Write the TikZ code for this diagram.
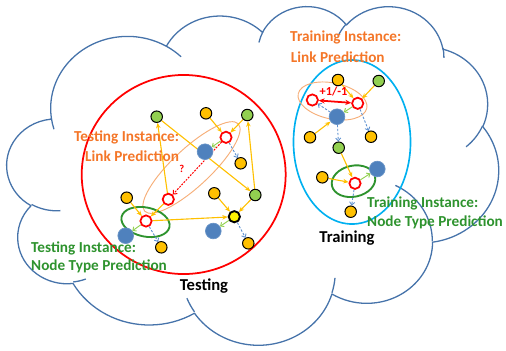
\documentclass[tikz,border=0pt]{standalone}
\usepackage{fontspec}
\setmainfont{Carlito}
\usetikzlibrary{arrows.meta,shapes.geometric}
\pgfdeclarelayer{bg}
\pgfsetlayers{bg,main}
\definecolor{cloudc}{HTML}{4673AA}
\definecolor{goldc}{HTML}{FFC000}
\definecolor{greenc}{HTML}{92D050}
\definecolor{bluec}{HTML}{4F81BD}
\definecolor{bluedc}{HTML}{5B8FD0}
\definecolor{orangetxt}{HTML}{F47628}
\definecolor{orangeell}{HTML}{F6AE78}
\definecolor{greentxt}{HTML}{2E932E}
\definecolor{cyanc}{HTML}{00B0F0}
\newcommand\cldprep[5]{%
  \pgfmathsetmacro\tmpA{atan2(#2*sin(#4),#3*cos(#4))}%
  \pgfmathsetmacro\tmpB{atan2(#2*sin(#4+#5),#3*cos(#4+#5))}%
  \pgfmathsetmacro\tmpD{mod(\tmpB-\tmpA+720,360)}%
  \expandafter\xdef\csname cst#1\endcsname{\tmpA}%
  \expandafter\xdef\csname cdl#1\endcsname{\tmpD}%
}
% main outline
\cldprep{A}{6.753}{9.190}{-190.48748}{123.78053}
\cldprep{B}{5.333}{7.267}{-144.10238}{89.94523}
\cldprep{C}{4.365}{5.945}{-145.80792}{99.72302}
\cldprep{D}{4.857}{6.595}{-130.98607}{117.24173}
\cldprep{E}{5.333}{7.273}{-78.70888}{109.02692}
\cldprep{F}{6.775}{9.220}{-46.26725}{130.269}
\cldprep{G}{5.785}{7.867}{0.62502}{114.03333}
\cldprep{H}{6.752}{9.215}{22.4516}{115.17255}
\cldprep{I}{7.720}{10.543}{66.24263}{75.71102}
\cldprep{J}{4.360}{5.918}{-274.94208}{146.73557}
\cldprep{K}{4.345}{5.945}{-246.8285}{152.51885}
% inner curls
\cldprep{L}{4.345}{5.945}{86.742}{26.4295}
\cldprep{M}{4.360}{5.918}{73.61047}{11.44747}
\cldprep{N}{6.752}{9.215}{137.62415}{14.0811}
\cldprep{O}{6.752}{9.215}{6.45327}{15.99835}
\cldprep{P}{5.785}{7.867}{-70.29235}{70.91737}
\cldprep{Q}{5.333}{7.273}{30.31803}{27.7515}
\cldprep{R}{4.857}{6.595}{-13.74433}{14.8589}
\cldprep{S}{4.857}{6.595}{-149.18145}{18.19537}
\cldprep{T}{4.365}{5.945}{-163.49427}{17.68635}
\cldprep{U}{6.753}{9.190}{-66.70695}{12.31935}
\cldprep{V}{6.753}{9.190}{157.65435}{11.85817}
\tikzset{
  cloudline/.style={draw=cloudc, line width=1.1pt, line join=round},
  gnode/.style={circle, draw=black, line width=0.85pt, fill=greenc, minimum size=9.8pt, inner sep=0pt},
  ynode/.style={gnode, fill=goldc},
  yynode/.style={circle, draw=black, line width=1.6pt, fill=yellow, minimum size=9.6pt, inner sep=0pt},
  bnode/.style={circle, draw=bluec!85!white, line width=0.6pt, fill=bluec, minimum size=13.4pt, inner sep=0pt},
  rnode/.style={circle, draw=red, line width=1.5pt, fill=white, minimum size=9.6pt, inner sep=0pt},
  goldarr/.style={draw=goldc, line width=0.95pt, -{Stealth[length=4.6pt,width=3.8pt]}},
  lgarr/.style={draw=greenc, line width=0.8pt, -{Straight Barb[length=2.4pt,width=4.4pt]}},
  bdarr/.style={draw=bluedc, line width=0.75pt, dash pattern=on 2pt off 1.4pt, -{Straight Barb[length=2.4pt,width=4.4pt]}},
  rdarr/.style={draw=red, line width=0.85pt, dash pattern=on 1.6pt off 1.1pt, -{Straight Barb[length=2.6pt,width=4.6pt]}},
  lbl/.style={font=\bfseries\fontsize{13}{15}\selectfont, inner sep=0pt, anchor=west},
  bigl/.style={font=\bfseries\fontsize{14.2}{16}\selectfont, inner sep=0pt},
  grpell/.style={ellipse, inner sep=0pt, fill=none},
}
\begin{document}
\begin{tikzpicture}[x=0.03cm, y=-0.03cm]
\useasboundingbox (0,0) rectangle (506,350);
% ---------- cloud ----------
\begin{pgfonlayer}{bg}
\begin{scope}[shift={(7,5.5)}, x=0.34132cm, y=-0.23507cm]
\draw[cloudline] (3.900,14.370)
  arc[start angle=\cstA, delta angle=\cdlA, x radius=6.753, y radius=9.190]
  arc[start angle=\cstB, delta angle=\cdlB, x radius=5.333, y radius=7.267]
  arc[start angle=\cstC, delta angle=\cdlC, x radius=4.365, y radius=5.945]
  arc[start angle=\cstD, delta angle=\cdlD, x radius=4.857, y radius=6.595]
  arc[start angle=\cstE, delta angle=\cdlE, x radius=5.333, y radius=7.273]
  arc[start angle=\cstF, delta angle=\cdlF, x radius=6.775, y radius=9.220]
  arc[start angle=\cstG, delta angle=\cdlG, x radius=5.785, y radius=7.867]
  arc[start angle=\cstH, delta angle=\cdlH, x radius=6.752, y radius=9.215]
  arc[start angle=\cstI, delta angle=\cdlI, x radius=7.720, y radius=10.543]
  arc[start angle=\cstJ, delta angle=\cdlJ, x radius=4.360, y radius=5.918]
  arc[start angle=\cstK, delta angle=\cdlK, x radius=4.345, y radius=5.945]
  -- cycle;
\draw[cloudline] (4.693,26.177) arc[start angle=\cstL, delta angle=\cdlL, x radius=4.345, y radius=5.945];
\draw[cloudline] (6.928,34.899) arc[start angle=\cstM, delta angle=\cdlM, x radius=4.360, y radius=5.918];
\draw[cloudline] (16.478,39.090) arc[start angle=\cstN, delta angle=\cdlN, x radius=6.752, y radius=9.215];
\draw[cloudline] (28.827,34.751) arc[start angle=\cstO, delta angle=\cdlO, x radius=6.752, y radius=9.215];
\draw[cloudline] (34.129,22.954) arc[start angle=\cstP, delta angle=\cdlP, x radius=5.785, y radius=7.867];
\draw[cloudline] (41.798,15.354) arc[start angle=\cstQ, delta angle=\cdlQ, x radius=5.333, y radius=7.273];
\draw[cloudline] (38.324,5.426) arc[start angle=\cstR, delta angle=\cdlR, x radius=4.857, y radius=6.595];
\draw[cloudline] (29.078,3.952) arc[start angle=\cstS, delta angle=\cdlS, x radius=4.857, y radius=6.595];
\draw[cloudline] (22.141,4.720) arc[start angle=\cstT, delta angle=\cdlT, x radius=4.365, y radius=5.945];
\draw[cloudline] (14.000,5.192) arc[start angle=\cstU, delta angle=\cdlU, x radius=6.753, y radius=9.190];
\draw[cloudline] (4.127,15.789) arc[start angle=\cstV, delta angle=\cdlV, x radius=6.753, y radius=9.190];
\end{scope}
% big regions
\node[ellipse, draw=red, line width=1.5pt, minimum width=174.1pt, minimum height=169.9pt, inner sep=0pt] (testreg) at (183.7,174.5) {};
\node[ellipse, draw=cyanc, line width=1.4pt, minimum width=99.9pt, minimum height=140pt, inner sep=0pt] (trainreg) at (352,142) {};
% group ellipses
\node[grpell, draw=orangeell, line width=0.8pt, minimum width=109.3pt, minimum height=32.4pt, rotate=43] (lpte) at (191.5,167.5) {};
\node[grpell, draw=orangeell, line width=0.8pt, minimum width=59.8pt, minimum height=30.7pt, rotate=-12] (lptr) at (332.5,101) {};
\node[grpell, draw=greentxt, line width=1.6pt, minimum width=41.8pt, minimum height=24.8pt, rotate=-12] (ntte) at (145.5,222) {};
\node[grpell, draw=greentxt, line width=1.6pt, minimum width=37.6pt, minimum height=26.5pt, rotate=12] (nttr) at (353.5,181.2) {};
\end{pgfonlayer}
% ---------- testing nodes ----------
\node[gnode] (g1) at (156.7,116.7) {};
\node[gnode] (g2) at (247.3,115) {};
\node[gnode] (g3) at (255.3,195) {};
\node[ynode] (y1) at (206,113.3) {};
\node[ynode] (y2) at (240.7,163.3) {};
\node[ynode] (y3) at (126.7,197.7) {};
\node[ynode] (y4) at (214.3,193.3) {};
\node[ynode] (y5) at (161.3,247.3) {};
\node[ynode] (y6) at (248.3,243.3) {};
\node[yynode] (yy) at (234.3,216.7) {};
\node[bnode] (b1) at (205,151.7) {};
\node[bnode] (b2) at (125.7,235.7) {};
\node[bnode] (b3) at (213.3,231) {};
\node[rnode] (r1) at (226,137.3) {};
\node[rnode] (r2) at (168.3,199.3) {};
\node[rnode] (r3) at (146,221) {};
% ---------- training nodes ----------
\node[ynode] (ty1) at (338,80) {};
\node[gnode] (tg1) at (378.7,81) {};
\node[rnode] (tr1) at (312.3,100) {};
\node[rnode] (tr2) at (357.7,103.3) {};
\node[bnode] (tb1) at (337,116.7) {};
\node[ynode] (ty2) at (310,137.3) {};
\node[ynode] (ty3) at (371,136.7) {};
\node[gnode] (tg2) at (338.7,147.7) {};
\node[bnode] (tb2) at (377.3,169) {};
\node[ynode] (ty4) at (322.3,177.3) {};
\node[rnode] (tr3) at (355,183.3) {};
\node[ynode] (ty5) at (350.7,211.7) {};
% ---------- edges ----------
\begin{pgfonlayer}{bg}
\draw[goldarr] (y1) -- (r1);
\draw[goldarr] (g2) -- (r1);
\draw[lgarr] (r1) -- (b1);
\draw[bdarr] (r1) -- (y2);
\draw[rdarr] (r1) -- (r2);
\draw[goldarr] (r2) -- (g1);
\draw[goldarr] (g1) -- (g3);
\draw[goldarr] (g3) -- (g2);
\draw[goldarr] (r2) -- (r3);
\draw[goldarr] (y3) -- (r3);
\draw[goldarr] (r3) -- (yy);
\draw[goldarr] (y4) -- (yy);
\draw[goldarr] (g3) -- (yy);
\draw[lgarr] (r3) -- (b2);
\draw[bdarr] (r3) -- (y5);
\draw[lgarr] (yy) -- (b3);
\draw[bdarr] (yy) -- (y6);
% training
\draw[goldarr] (ty1) -- (tr2);
\draw[goldarr] (tg1) -- (tr2);
\draw[draw=red, line width=1.5pt, {Stealth[length=5pt,width=4.4pt]}-{Stealth[length=5pt,width=4.4pt]}] (tr1) -- (tr2);
\draw[lgarr] (tr2) -- (tb1);
\draw[bdarr] (tb1) -- (tr1);
\draw[bdarr] (tr2) -- (ty3);
\draw[goldarr] (ty2) -- (tb1);
\draw[bdarr] (tb1) -- (tg2);
\draw[goldarr] (tg2) -- (tr3);
\draw[goldarr] (ty4) -- (tr3);
\draw[lgarr] (tr3) -- (tb2);
\draw[bdarr] (tr3) -- (ty5);
\end{pgfonlayer}
% ---------- labels ----------
\node[lbl, text=orangetxt] (t1a) at (74,137) {Testing Instance:};
\node[lbl, text=orangetxt] (t1b) at (85,156) {Link Prediction};
\node[lbl, text=orangetxt] (t2a) at (290,37.7) {Training Instance:};
\node[lbl, text=orangetxt] (t2b) at (290.7,56.7) {Link Prediction};
\node[lbl, text=greentxt] (t3a) at (31,248) {Testing Instance:};
\node[lbl, text=greentxt] (t3b) at (31,266) {Node Type Prediction};
\node[lbl, text=greentxt] (t4a) at (367,203) {Training Instance:};
\node[lbl, text=greentxt] (t4b) at (367,222) {Node Type Prediction};
\node[bigl] (ttest) at (204,286) {Testing};
\node[bigl] (ttrain) at (347,238) {Training};
\node[font=\bfseries\fontsize{9}{10}\selectfont, text=red, inner sep=0pt] (qm) at (181.7,169.3) {?};
\node[font=\bfseries\fontsize{10.5}{12}\selectfont, text=red, inner sep=0pt] (pm) at (333.5,91.7) {+1/-1};
\end{tikzpicture}
\end{document}
